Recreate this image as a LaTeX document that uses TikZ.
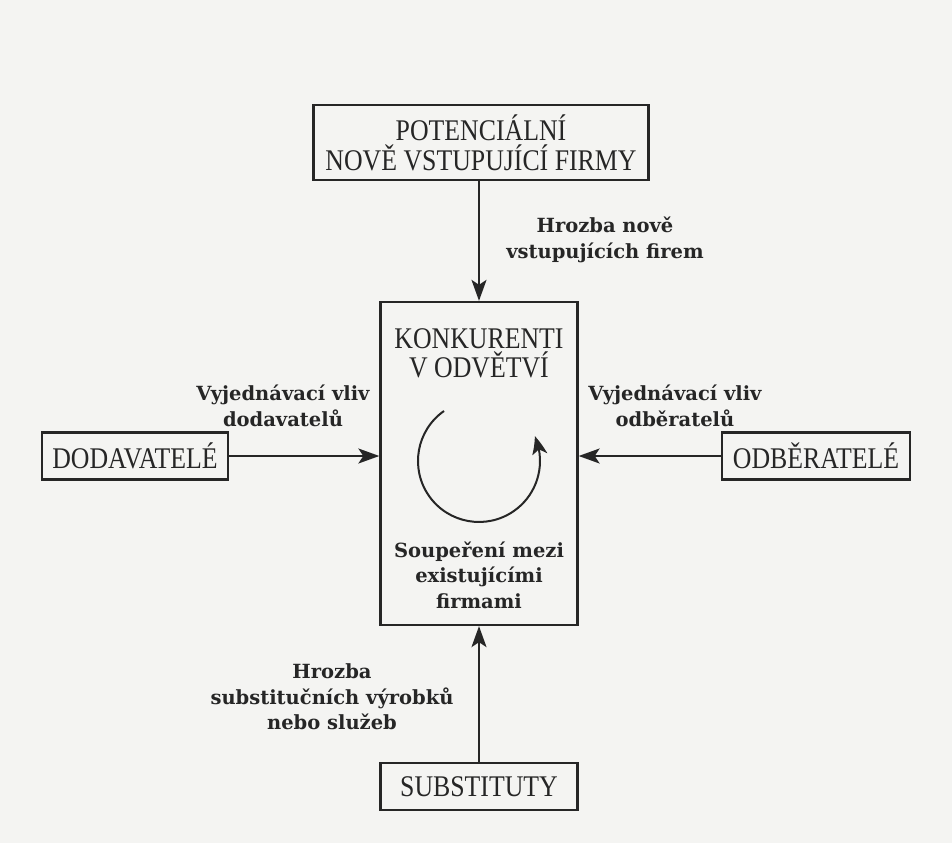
\documentclass[tikz,border=0pt]{standalone}
\usepackage{fontspec}
\setmainfont{Liberation Serif}
\newfontfamily\boxfont[FakeStretch=0.86]{Liberation Serif}
\newfontfamily\labfont{DejaVu Serif}
\usetikzlibrary{arrows.meta,bending}
\definecolor{ink}{RGB}{38,38,38}
\definecolor{paper}{RGB}{244,244,242}
\begin{document}
\begin{tikzpicture}[x=1pt,y=-1pt,
  box/.style={draw=ink, line width=2.3pt, inner sep=0pt, align=center,
    font=\boxfont\fontsize{30}{30}\selectfont, text=ink},
  boxtext/.style={inner sep=0pt, align=center,
    font=\boxfont\fontsize{30}{29}\selectfont, text=ink},
  lab/.style={inner sep=0pt, align=center,
    font=\labfont\bfseries\fontsize{19.5}{25.5}\selectfont, text=ink},
  arr/.style={draw=ink, line width=2pt, -{Stealth[length=21pt,width=15pt,inset=5pt]}},
  circarr/.style={draw=ink, line width=2pt, -{Stealth[length=19pt,width=15pt,inset=5pt,bend]}}]
\fill[paper] (0,0) rectangle (952,843);
\useasboundingbox (0,0) rectangle (952,843);

% boxes
\node[box, minimum width=335pt, minimum height=75pt] (pot) at (481,142.5) {POTENCIÁLNÍ\\NOVĚ VSTUPUJÍCÍ FIRMY};
\node[draw=ink, line width=2.3pt, inner sep=0pt, minimum width=197pt, minimum height=323pt] (kon) at (479,463.5) {};
\node[box, minimum width=186pt, minimum height=47pt] (dod) at (135,456) {DODAVATELÉ};
\node[box, minimum width=188pt, minimum height=47pt] (odb) at (816,456) {ODBĚRATELÉ};
\node[box, minimum width=197pt, minimum height=47pt] (sub) at (479,786.5) {SUBSTITUTY};

% texts inside the central box
\node[boxtext] (kont) at (479,353) {KONKURENTI\\V ODVĚTVÍ};
\node[lab] (soup) at (479,575) {Soupeření mezi\\existujícími\\firmami};
\coordinate (cstart) at (444,411);
\draw[circarr] (cstart) arc[start angle=-125, end angle=-384, radius=61];

% connectors
\draw[arr] (pot.south -| kon.north) -- (kon.north);
\draw[arr] (dod.east) -- (dod.east -| kon.west);
\draw[arr] (odb.west) -- (odb.west -| kon.east);
\draw[arr] (sub.north) -- (kon.south);

% labels
\node[lab] (lnew) at (605,240) {Hrozba nově\\vstupujících firem};
\node[lab] (ldod) at (283,406) {Vyjednávací vliv\\dodavatelů};
\node[lab] (lodb) at (675,406) {Vyjednávací vliv\\odběratelů};
\node[lab] (lsub) at (332,697) {Hrozba\\substitučních výrobků\\nebo služeb};
\end{tikzpicture}
\end{document}
